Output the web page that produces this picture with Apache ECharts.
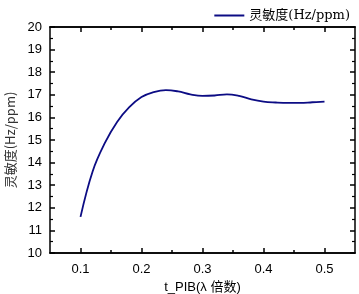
<!DOCTYPE html>
<html>
<head>
<meta charset="utf-8">
<script src="https://cdn.jsdelivr.net/npm/echarts@6/dist/echarts.min.js"></script>
<style>
  html, body { margin: 0; padding: 0; background: #fff; }
  #chart { width: 359px; height: 294px; }
</style>
</head>
<body>
<div id="chart"></div>
<script>
// t_PIB (λ 倍数) 和 灵敏度
const xValues = [0.10, 0.12, 0.14, 0.16, 0.18, 0.20, 0.22, 0.24, 0.26, 0.28, 0.30,
  0.32, 0.34, 0.36, 0.38, 0.40, 0.42, 0.44, 0.46, 0.48, 0.50];
const sensitivity = [11.6, 13.62, 14.87, 15.8, 16.45, 16.9, 17.12, 17.21, 17.15, 17.02, 16.95,
  16.97, 17.02, 16.95, 16.8, 16.7, 16.66, 16.64, 16.64, 16.67, 16.7];
const xMajorTicks = [0.1, 0.2, 0.3, 0.4, 0.5];
const xMinorTicks = [0.15, 0.25, 0.35, 0.45];
const seriesName = '灵敏度(Hz/ppm)';

const chart = echarts.init(document.getElementById('chart'));

const axisLineStyle = { color: '#000', width: 1.5 };
const labelFont = { color: '#000', fontSize: 13, fontFamily: 'Liberation Sans, Arial, sans-serif' };

// x 轴：主刻度和次刻度分开画，上下两边都有
function xAxisOf(position, ticks, len, showLabel) {
  return {
    type: 'value',
    position: position,
    min: 0.05,
    max: 0.55,
    axisLine: { show: true, onZero: false, lineStyle: axisLineStyle },
    axisTick: { show: true, inside: true, length: len, customValues: ticks, lineStyle: axisLineStyle },
    axisLabel: showLabel
      ? { show: true, customValues: ticks, margin: 10, ...labelFont, formatter: (v) => v.toFixed(1) }
      : { show: false },
    splitLine: { show: false },
  };
}

function yAxisOf(position, showLabel) {
  return {
    type: 'value',
    position: position,
    min: 10,
    max: 20,
    interval: 1,
    axisLine: { show: true, onZero: false, lineStyle: axisLineStyle },
    axisTick: { show: true, inside: true, length: 5, lineStyle: axisLineStyle },
    minorTick: { show: true, splitNumber: 2, length: 3, lineStyle: { color: '#000', width: 1.2 } },
    axisLabel: showLabel ? { show: true, margin: 8, ...labelFont } : { show: false },
    splitLine: { show: false },
    minorSplitLine: { show: false },
  };
}

const bottomMajor = xAxisOf('bottom', xMajorTicks, 5, true);
bottomMajor.name = 't_PIB(λ 倍数)';
bottomMajor.nameLocation = 'middle';
bottomMajor.nameGap = 27;
bottomMajor.nameTextStyle = { color: '#000', fontSize: 13, fontFamily: 'Liberation Sans, Noto Sans CJK SC, sans-serif' };

const leftAxis = yAxisOf('left', true);
leftAxis.name = '灵敏度(Hz/ppm)';
leftAxis.nameLocation = 'middle';
leftAxis.nameGap = 30;
leftAxis.nameTextStyle = { color: '#333', fontSize: 13, fontFamily: 'Noto Sans CJK SC, sans-serif' };

chart.setOption({
  animation: false,
  backgroundColor: '#fff',
  grid: { left: 50, right: 4, top: 27, bottom: 41, containLabel: false, outerBoundsMode: 'none' },
  legend: {
    right: 4,
    top: 4,
    icon: 'rect',
    itemWidth: 30,
    itemHeight: 2,
    itemGap: 6,
    data: [seriesName],
    textStyle: { color: '#000', fontSize: 13, fontFamily: 'DejaVu Serif, Noto Sans CJK SC, serif' },
  },
  xAxis: [
    bottomMajor,
    xAxisOf('bottom', xMinorTicks, 3, false),
    xAxisOf('top', xMajorTicks, 5, false),
    xAxisOf('top', xMinorTicks, 3, false),
  ],
  yAxis: [leftAxis, yAxisOf('right', false)],
  series: [
    {
      name: seriesName,
      type: 'line',
      xAxisIndex: 0,
      yAxisIndex: 0,
      smooth: 0.4,
      symbol: 'none',
      data: xValues.map((x, i) => [x, sensitivity[i]]),
      lineStyle: { color: '#0c0c84', width: 1.8 },
      itemStyle: { color: '#0c0c84' },
    },
  ],
});
</script>
</body>
</html>
